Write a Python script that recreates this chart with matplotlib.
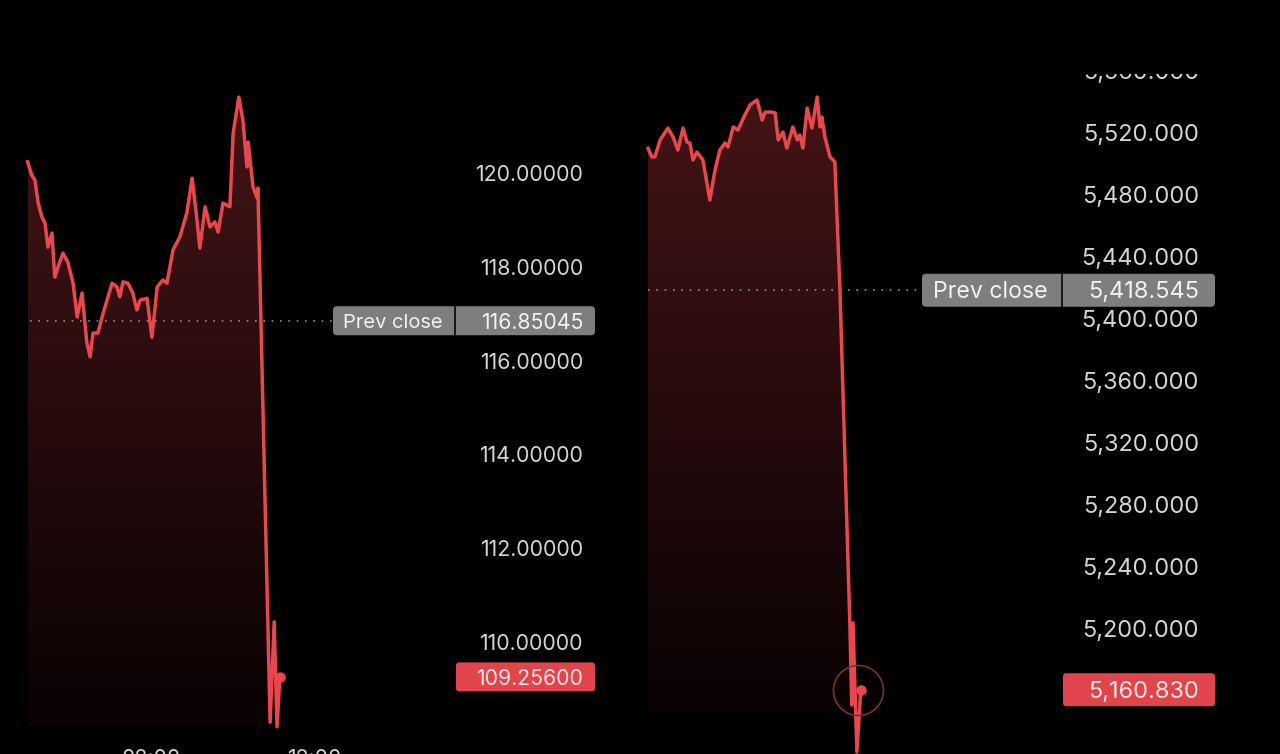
import numpy as np
import matplotlib
matplotlib.use("Agg")
import matplotlib.pyplot as plt
import matplotlib.transforms as mtransforms
from matplotlib.patches import FancyBboxPatch, Rectangle
from matplotlib.colors import LinearSegmentedColormap

# ---------------- data ----------------
left_time = [4.95, 5.05, 5.13, 5.21, 5.30, 5.38, 5.45, 5.55, 5.62, 5.70, 5.82, 5.94,
             6.07, 6.17, 6.29, 6.41, 6.49, 6.56, 6.68, 6.81, 7.03, 7.15, 7.22, 7.30,
             7.42, 7.54, 7.64, 7.72, 7.89, 8.01, 8.14, 8.28, 8.38, 8.53, 8.70, 8.87,
             9.00, 9.12, 9.19, 9.32, 9.44, 9.56, 9.64, 9.76, 9.93, 10.01, 10.15, 10.25,
             10.35, 10.38, 10.50, 10.60, 10.62, 10.92, 11.02, 11.09, 11.16]
left_price = [120.24, 119.96, 119.85, 119.36, 119.07, 118.93, 118.42, 118.72, 117.78,
              118.00, 118.29, 118.10, 117.65, 116.93, 117.44, 116.38, 116.08, 116.59,
              116.59, 117.01, 117.65, 117.57, 117.36, 117.68, 117.65, 117.44, 117.08,
              117.29, 117.33, 116.50, 117.57, 117.72, 117.65, 118.36, 118.64, 119.15,
              119.89, 119.00, 118.40, 119.28, 118.85, 118.96, 118.74, 119.36, 119.28,
              120.85, 121.62, 121.13, 120.13, 120.66, 119.70, 119.47, 119.68, 108.29,
              110.43, 108.19, 109.256]
left_prev_close = 116.85045
left_last = 109.25600
left_ticks = [110, 112, 114, 116, 118, 120]
left_tick_labels = ["110.00000", "112.00000", "114.00000", "116.00000", "118.00000", "120.00000"]
left_time_ticks = [8, 12]
left_time_labels = ["08:00", "12:00"]
left_prev_text = "116.85045"
left_last_text = "109.25600"

right_time = [6.00, 6.09, 6.16, 6.28, 6.46, 6.58, 6.69, 6.81, 6.90, 6.97, 7.04, 7.13,
              7.27, 7.43, 7.55, 7.66, 7.78, 7.85, 7.97, 8.08, 8.24, 8.36, 8.52, 8.64,
              8.71, 8.87, 8.94, 9.01, 9.12, 9.21, 9.35, 9.45, 9.51, 9.58, 9.68, 9.79,
              9.91, 9.98, 10.02, 10.09, 10.21, 10.28, 10.32, 10.44, 10.67, 10.71, 10.74,
              10.83, 10.92]
right_price = [5510.1, 5504.5, 5504.7, 5515.5, 5523.2, 5517.4, 5509.0, 5523.2, 5514.2,
               5513.5, 5502.6, 5507.7, 5502.6, 5476.8, 5496.1, 5509.0, 5513.5, 5511.0,
               5523.9, 5521.9, 5531.6, 5538.1, 5541.3, 5528.4, 5533.5, 5533.5, 5532.9,
               5515.5, 5520.6, 5510.3, 5523.9, 5515.5, 5518.7, 5510.3, 5536.1, 5523.2,
               5543.2, 5523.9, 5530.3, 5517.4, 5504.5, 5502.6, 5501.3, 5417.4, 5200.6,
               5151.0, 5203.9, 5120.6, 5160.83]
right_prev_close = 5418.545
right_last = 5160.830
right_ticks = [5200, 5240, 5280, 5320, 5360, 5400, 5440, 5480, 5520, 5560]
right_tick_labels = ["5,200.000", "5,240.000", "5,280.000", "5,320.000", "5,360.000",
                     "5,400.000", "5,440.000", "5,480.000", "5,520.000", "5,560.000"]
right_prev_text = "5,418.545"
right_last_text = "5,160.830"

# ---------------- style ----------------
W, H = 1280, 754
BG = "#000000"
LINE = "#e9474f"
TICK_C = "#d4d4d4"
BOX_GRAY = "#7e7e7e"
BOX_RED = "#df454b"
FONT = ["Inter", "DejaVu Sans"]

fig = plt.figure(figsize=(W / 100, H / 100), dpi=100, facecolor=BG)
renderer = fig.canvas.get_renderer()


def size_for(s, target_px, base=15.0):
    t = fig.text(0, 0, s, fontsize=base, family=FONT)
    w = t.get_window_extent(renderer).width
    t.remove()
    return base * target_px / w


def gradient_fill(ax, x, y, base, top_color, bottom_color):
    poly = ax.fill_between(x, y, base, facecolor="none", edgecolor="none")
    cmap = LinearSegmentedColormap.from_list("g", [bottom_color, top_color])
    grad = np.linspace(0, 1, 256).reshape(-1, 1)
    im = ax.imshow(grad, cmap=cmap, aspect="auto", origin="lower",
                   extent=[min(x), max(x), base, max(y)], zorder=1,
                   interpolation="bilinear")
    im.set_clip_path(poly.get_paths()[0], transform=ax.transData)


def make_panel(rect, xlim, ylim, t, p, base, prev, last,
               ticks, tick_labels, tick_x_px, tick_size,
               dot_from, dot_to, prev_box, last_box, prev_text, last_text,
               label_size, prev_label_x, box_h, circle=False):
    ax = fig.add_axes(rect)
    ax.set_facecolor(BG)
    ax.set_axis_off()
    gradient_fill(ax, t, p, base, "#441416", "#0a0203")
    ax.plot(t, p, color=LINE, lw=2.5, zorder=3, solid_joinstyle="round")
    ax.plot([t[-1]], [p[-1]], "o", color=LINE, ms=6.5, zorder=4)
    if circle:
        ax.plot([t[-1] - 0.07], [p[-1]], "o", mfc="none", mec="#7a3131",
                mew=1.2, ms=36, zorder=4)
    ax.set_xlim(*xlim)
    ax.set_ylim(*ylim)

    # dotted previous close line
    x0f = (rect[0] * W)
    ax.axhline(prev, xmin=(dot_from - x0f) / (rect[2] * W),
               xmax=(dot_to - x0f) / (rect[2] * W),
               color="#8c8c8c", lw=1.2, ls=(0, (1, 4)), zorder=2)

    # text: x in figure pixels, y in data, nudged 2 px down
    trans = (mtransforms.blended_transform_factory(fig.transFigure, ax.transData)
             + mtransforms.Affine2D().translate(0, -2))
    for v, lab in zip(ticks, tick_labels):
        fig.text(tick_x_px / W, v, lab, transform=trans, ha="right", va="center",
                 color=TICK_C, fontsize=tick_size, family=FONT)

    # boxes (centre from data through axes transform)
    def ypix(v):
        return ax.transData.transform((xlim[0], v))[1]

    yc = ypix(prev)
    bx0, bdiv, bx1 = prev_box
    fig.add_artist(FancyBboxPatch((bx0, yc - box_h / 2), bx1 - bx0, box_h,
                                  boxstyle="round,pad=0,rounding_size=4",
                                  transform=mtransforms.IdentityTransform(),
                                  fc=BOX_GRAY, ec="none", zorder=5))
    fig.add_artist(Rectangle((bdiv - 1, yc - box_h / 2), 2, box_h,
                             transform=mtransforms.IdentityTransform(),
                             fc="#1a1a1a", ec="none", zorder=6))
    fig.text(prev_label_x / W, prev, "Prev close", transform=trans, ha="left",
             va="center", color="#f2f2f2", fontsize=label_size, family=FONT, zorder=7)
    fig.text(tick_x_px / W, prev, prev_text, transform=trans, ha="right",
             va="center", color="#f2f2f2", fontsize=tick_size, family=FONT, zorder=7)

    yl = ypix(last)
    lx0, lx1 = last_box
    fig.add_artist(FancyBboxPatch((lx0, yl - box_h / 2), lx1 - lx0, box_h,
                                  boxstyle="round,pad=0,rounding_size=3",
                                  transform=mtransforms.IdentityTransform(),
                                  fc=BOX_RED, ec="none", zorder=5))
    fig.text(tick_x_px / W, last, last_text, transform=trans, ha="right",
             va="center", color="#f6e4e4", fontsize=tick_size, family=FONT, zorder=7)
    return ax, trans


# ---- left panel ----
ls_tick = size_for("120.00000", 108)
ls_lab = size_for("Prev close", 100)
axL, transL = make_panel(
    [0, 0, 0.5, 1], (4.271, 20.025), (107.612, 123.689),
    left_time, left_price, 108.19, left_prev_close, left_last,
    left_ticks, left_tick_labels, 583, ls_tick,
    30, 333, (333, 455, 595), (456, 595), left_prev_text, left_last_text,
    ls_lab, 343, 29)

# time labels (cut by the bottom edge, as in the screenshot)
tx = mtransforms.blended_transform_factory(axL.transData, fig.transFigure)
for h, lab in zip(left_time_ticks, left_time_labels):
    fig.text(h, -5 / H, lab, transform=tx, ha="center", va="center",
             color=TICK_C, fontsize=ls_tick, family=FONT)

# ---- right panel ----
rs_tick = size_for("5,520.000", 116)
rs_lab = size_for("Prev close", 115)
axR, transR = make_panel(
    [0.5, 0, 0.5, 1], (5.815, 20.613), (5119.35, 5605.81),
    right_time, right_price, 5146.5, right_prev_close, right_last,
    right_ticks, right_tick_labels, 1199, rs_tick,
    648, 922, (922, 1062, 1215), (1063, 1215), right_prev_text, right_last_text,
    rs_lab, 933, 33, circle=True)

# black band hiding the top of the screenshot
fig.add_artist(Rectangle((0, H - 74), W, 74, transform=mtransforms.IdentityTransform(),
                         fc=BG, ec="none", zorder=20))

fig.savefig("out.png", dpi=100, facecolor=BG)
